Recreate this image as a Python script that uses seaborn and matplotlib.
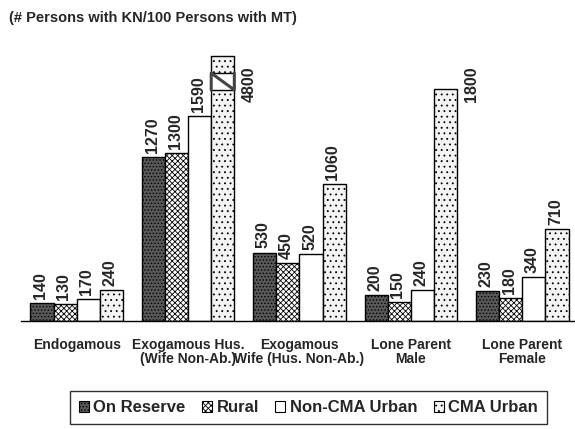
import pandas as pd
import matplotlib.pyplot as plt
from matplotlib.patches import Patch, Rectangle
import seaborn as sns

# data
categories = ['Endogamous', 'Exogamous Hus.\n(Wife Non-Ab.)', 'Exogamous\nWife (Hus. Non-Ab.)',
              'Lone Parent\nMale', 'Lone Parent\nFemale']
areas = ['On Reserve', 'Rural', 'Non-CMA Urban', 'CMA Urban']
on_reserve = [140, 1270, 530, 200, 230]
rural = [130, 1300, 450, 150, 180]
non_cma = [170, 1590, 520, 240, 340]
cma = [240, 4800, 1060, 1800, 710]
title = '(# Persons with KN/100 Persons with MT)'

df = pd.DataFrame({
    'category': categories * 4,
    'area': [a for a in areas for _ in categories],
    'value': on_reserve + rural + non_cma + cma,
})

sns.set_theme(style='white')
plt.rcParams['font.family'] = ['Liberation Sans', 'DejaVu Sans']
plt.rcParams['hatch.linewidth'] = 0.6

faces = ['#585858', 'white', 'white', '#f4f4f4']
hatches = ['.....', 'xxxxxx', '', '...']

fig = plt.figure(figsize=(5.75, 4.29), dpi=100)
ax = fig.add_axes([0.0365, 0.2517, 0.9687, 0.6177])

sns.barplot(data=df, x='category', y='value', hue='area', order=categories, hue_order=areas,
            palette=faces, saturation=1, width=0.83, edgecolor='black', linewidth=1,
            legend=False, ax=ax)

ytop = 2054
ax.set_ylim(0, ytop)
ax.set_xlim(-0.5, 4.5)

for cont, fc, h in zip(ax.containers, faces, hatches):
    for bar in cont:
        bar.set_facecolor(fc)
        bar.set_hatch(h)
        bar.set_edgecolor('black')
        val = bar.get_height()
        xc = bar.get_x() + bar.get_width() / 2
        if val + 300 > ytop:
            # label beside a tall bar
            ax.annotate(f'{val:.0f}', (bar.get_x() + bar.get_width(), 1975), xytext=(5, 0),
                        textcoords='offset points', rotation=90, ha='left', va='top',
                        fontsize=11.5, fontweight='bold', annotation_clip=False)
        else:
            ax.annotate(f'{val:.0f}', (xc, val), xytext=(-1, 3), textcoords='offset points',
                        rotation=90, ha='center', va='bottom', fontsize=11.5, fontweight='bold')
        if val > ytop:
            # axis break on the clipped bar
            x0, x1 = bar.get_x(), bar.get_x() + bar.get_width()
            lo, hi = 1791, 1922
            ax.add_patch(Rectangle((x0 - 0.01, lo), x1 - x0 + 0.02, hi - lo, facecolor='white',
                                   edgecolor='none', zorder=5))
            ax.plot([x0, x1], [lo, lo], color='black', lw=1, zorder=6)
            ax.plot([x0, x1], [hi, hi], color='black', lw=1, zorder=6)
            ax.plot([x0, x0, x1, x1], [lo, hi, lo, hi], color='#444444', lw=2.2, zorder=6)
            ax.plot([x0, x1], [ytop, ytop], color='black', lw=1, clip_on=False, zorder=6)

# axes styling
for s in ['left', 'right', 'top']:
    ax.spines[s].set_visible(False)
ax.spines['bottom'].set_color('black')
ax.spines['bottom'].set_linewidth(1)
ax.set_yticks([])
ax.set_xlabel('')
ax.set_ylabel('')
ax.set_xticks(range(len(categories)))
ax.set_xticklabels(categories, fontsize=10, fontweight='bold', linespacing=0.95)
ax.set_xticks([i - 0.5 for i in range(len(categories) + 1)], minor=True)
ax.tick_params(axis='x', which='major', length=0, pad=12.5)
ax.tick_params(axis='x', which='minor', length=5, width=1, color='black', direction='out')

fig.text(0.016, 1 - 18 / 429, title, fontsize=10.5, fontweight='bold', va='center', ha='left')

handles = [Patch(facecolor=fc, hatch=h, edgecolor='black', linewidth=0.8)
           for fc, h in zip(faces, hatches)]
leg = fig.legend(handles, areas, loc='upper left', bbox_to_anchor=(70 / 575, 1 - 391 / 429),
                 ncol=4, frameon=True, fancybox=False, edgecolor='black',
                 prop={'weight': 'bold', 'size': 12}, handlelength=0.6, handleheight=0.6,
                 handletextpad=0.25, columnspacing=1.0, borderpad=0.55, borderaxespad=0)
leg.get_frame().set_linewidth(1)

fig.savefig('out.png', dpi=100)
